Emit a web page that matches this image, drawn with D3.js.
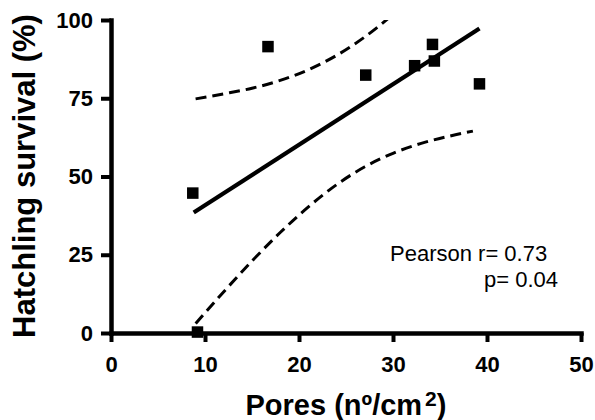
<!DOCTYPE html>
<html>
<head>
<meta charset="utf-8">
<script src="https://cdn.jsdelivr.net/npm/d3@7"></script>
<style>
  html, body { margin: 0; padding: 0; background: #fff; }
  svg { display: block; }
  text { font-family: "Liberation Sans", Arial, sans-serif; fill: #000; }
</style>
</head>
<body>
<div id="chart"></div>
<script>
// Observed data (pores vs hatchling survival)
const poresX    = [8.7, 9.2, 16.7, 27.1, 32.3, 34.2, 34.4, 39.2];
const survivalY = [44.7, 0.3, 91.5, 82.4, 85.4, 92.2, 86.9, 79.6];

// Regression line endpoints
const fitX = [8.8, 39.2];
const fitY = [38.5, 97.3];

// 95% confidence band
const bandX     = [9, 12, 15, 18, 21, 24, 27, 30, 33, 36, 38.5];
const bandUpper = [74.8, 76.4, 78.2, 80.7, 84.1, 88.7, 94.6, 101.8, 110, 118, 126];
const bandLower = [3.0, 13.2, 23.0, 32.1, 40.3, 47.4, 53.1, 57.4, 60.6, 62.9, 64.5];

const xTicks = [0, 10, 20, 30, 40, 50];
const yTicks = [0, 25, 50, 75, 100];

const W = 595, H = 420;
const svg = d3.select("#chart").append("svg").attr("width", W).attr("height", H);

const x = d3.scaleLinear().domain([0, 50]).range([111, 581]);
const y = d3.scaleLinear().domain([0, 100]).range([333, 20]);

svg.append("clipPath").attr("id", "plotclip")
  .append("rect").attr("x", x(0)).attr("y", y(100)).attr("width", x(50) - x(0)).attr("height", y(0) - y(100));

// Axes
const xAxis = d3.axisBottom(x).tickValues(xTicks).tickSizeInner(9).tickSizeOuter(0).tickPadding(14);
const yAxis = d3.axisLeft(y).tickValues(yTicks).tickSizeInner(10).tickSizeOuter(0).tickPadding(8);

const gx = svg.append("g").attr("transform", `translate(0,${y(0)})`).call(xAxis);
const gy = svg.append("g").attr("transform", `translate(${x(0)},0)`).call(yAxis);

[gx, gy].forEach(g => {
  g.select(".domain").attr("stroke", "#000").attr("stroke-width", 4.5).attr("stroke-linecap", "square");
  g.selectAll(".tick line").attr("stroke", "#000").attr("stroke-width", 4);
  g.selectAll(".tick text")
    .attr("font-family", "Liberation Sans, Arial, sans-serif")
    .attr("font-size", 22).attr("font-weight", "bold").attr("fill", "#000");
});

// Confidence band (dashed)
const plot = svg.append("g").attr("clip-path", "url(#plotclip)");
const bandLine = d3.line().x(d => x(d[0])).y(d => y(d[1])).curve(d3.curveMonotoneX);
plot.append("path")
  .attr("d", bandLine(bandX.map((v, i) => [v, bandUpper[i]])))
  .attr("fill", "none").attr("stroke", "#000").attr("stroke-width", 3).attr("stroke-dasharray", "11,6");
plot.append("path")
  .attr("d", bandLine(bandX.map((v, i) => [v, bandLower[i]])))
  .attr("fill", "none").attr("stroke", "#000").attr("stroke-width", 3).attr("stroke-dasharray", "11,6");

// Regression line
svg.append("path")
  .attr("d", d3.line().x(d => x(d[0])).y(d => y(d[1]))(fitX.map((v, i) => [v, fitY[i]])))
  .attr("fill", "none").attr("stroke", "#000").attr("stroke-width", 4.2);

// Points
const sq = 11.5;
svg.append("g").selectAll("rect")
  .data(poresX.map((v, i) => [v, survivalY[i]]))
  .join("rect")
  .attr("x", d => x(d[0]) - sq / 2)
  .attr("y", d => y(d[1]) - sq / 2)
  .attr("width", sq).attr("height", sq)
  .attr("fill", "#000");

// Axis titles
const xt = svg.append("text")
  .attr("x", 346).attr("y", 415)
  .attr("text-anchor", "middle")
  .attr("font-size", 29).attr("font-weight", "bold");
xt.append("tspan").text("Pores (nº/cm");
xt.append("tspan").attr("font-size", 21).attr("dx", 3).attr("dy", -9).text("2");
xt.append("tspan").attr("dy", 9).text(")");

svg.append("text")
  .attr("transform", "translate(35,176) rotate(-90)")
  .attr("text-anchor", "middle")
  .attr("font-size", 31).attr("font-weight", "bold")
  .text("Hatchling survival (%)");

// Statistics annotation
svg.append("text").attr("x", 390).attr("y", 261).attr("font-size", 22).text("Pearson r= 0.73");
svg.append("text").attr("x", 484).attr("y", 286.5).attr("font-size", 22).text("p= 0.04");
</script>
</body>
</html>
